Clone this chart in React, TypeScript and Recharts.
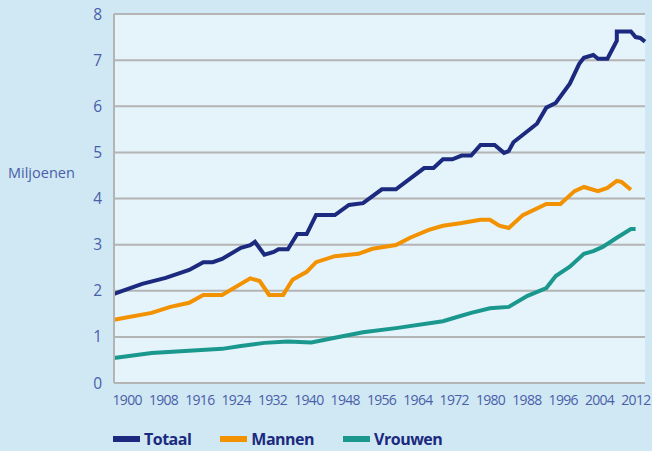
import { LineChart, Line, XAxis, YAxis, CartesianGrid } from "recharts"

const totaalJaren = [1900, 1906, 1911, 1916, 1919, 1921, 1923, 1927, 1929, 1930, 1932, 1934, 1935, 1937, 1939, 1941, 1943, 1947, 1950, 1953, 1957, 1960, 1966, 1968, 1970, 1972, 1974, 1976, 1978, 1981, 1983, 1984, 1985, 1990, 1992, 1994, 1997, 1999, 2000, 2002, 2003, 2005, 2007, 2007, 2010, 2011, 2012, 2013]
const totaalWaarden = [1.93, 2.15, 2.28, 2.45, 2.62, 2.62, 2.69, 2.93, 2.99, 3.06, 2.78, 2.84, 2.9, 2.9, 3.23, 3.23, 3.64, 3.64, 3.86, 3.9, 4.2, 4.2, 4.66, 4.66, 4.85, 4.85, 4.93, 4.93, 5.16, 5.16, 4.99, 5.03, 5.22, 5.62, 5.97, 6.07, 6.49, 6.92, 7.05, 7.11, 7.03, 7.03, 7.42, 7.62, 7.62, 7.5, 7.48, 7.4]

const mannenJaren = [1900, 1908, 1912, 1916, 1919, 1923, 1929, 1931, 1933, 1936, 1938, 1941, 1943, 1947, 1952, 1955, 1960, 1963, 1967, 1970, 1974, 1978, 1980, 1982, 1984, 1987, 1992, 1995, 1998, 2000, 2003, 2005, 2007, 2008, 2010]
const mannenWaarden = [1.37, 1.52, 1.65, 1.74, 1.91, 1.91, 2.27, 2.21, 1.91, 1.91, 2.24, 2.41, 2.62, 2.75, 2.8, 2.91, 2.99, 3.15, 3.32, 3.41, 3.47, 3.54, 3.54, 3.41, 3.36, 3.64, 3.88, 3.88, 4.16, 4.25, 4.16, 4.23, 4.38, 4.36, 4.19]

const vrouwenJaren = [1900, 1908, 1923, 1927, 1932, 1937, 1942, 1947, 1953, 1960, 1970, 1973, 1976, 1980, 1984, 1988, 1992, 1994, 1997, 2000, 2002, 2004, 2007, 2010, 2011]
const vrouwenWaarden = [0.54, 0.65, 0.74, 0.8, 0.87, 0.9, 0.88, 0.98, 1.1, 1.19, 1.34, 1.43, 1.52, 1.62, 1.65, 1.89, 2.06, 2.32, 2.52, 2.8, 2.86, 2.95, 3.15, 3.34, 3.34]

const jaarTicks = [1900, 1908, 1916, 1924, 1932, 1940, 1948, 1956, 1964, 1972, 1980, 1988, 1996, 2004, 2012]
const yTicks = [0, 1, 2, 3, 4, 5, 6, 7, 8]

const reeksen = [
  { naam: "Totaal", kleur: "#1b2a7e", jaren: totaalJaren, waarden: totaalWaarden },
  { naam: "Mannen", kleur: "#f39200", jaren: mannenJaren, waarden: mannenWaarden },
  { naam: "Vrouwen", kleur: "#1a988e", jaren: vrouwenJaren, waarden: vrouwenWaarden },
]

const tekstKleur = "#4b5ea8"
const grijs = "#b4b4b4"
const font = "'Open Sans', sans-serif"

export default function App() {
  return (
    <div style={{ position: "relative", width: 652, height: 451, background: "#cfe8f4", fontFamily: font }}>
      <style>{`body{margin:0}`}</style>
      <LineChart width={652} height={451} margin={{ top: 14, right: 7, bottom: 38, left: 64 }}>
        <CartesianGrid vertical={false} stroke={grijs} strokeWidth={2} fill="#e5f3fa" />
        <XAxis
          xAxisId="l"
          type="number"
          dataKey="jaar"
          domain={[1897.1, 2014]}
          ticks={jaarTicks}
          allowDataOverflow
          height={30}
          axisLine={{ stroke: grijs, strokeWidth: 2 }}
          tickLine={false}
          tickMargin={6}
          tick={{ fill: tekstKleur, fontSize: 14, fontFamily: font, letterSpacing: -0.7 }}
        />
        <XAxis xAxisId="d" type="number" dataKey="jaar" domain={[1900, 2013]} height={0} hide />
        <YAxis
          domain={[0, 8]}
          ticks={yTicks}
          width={50}
          axisLine={{ stroke: grijs, strokeWidth: 2 }}
          tickLine={false}
          tickMargin={6}
          tick={{ fill: tekstKleur, fontSize: 15.5, fontFamily: font }}
        />
        <Line
          xAxisId="l"
          data={jaarTicks.map((j) => ({ jaar: j }))}
          dataKey="leeg"
          stroke="none"
          dot={false}
          activeDot={false}
          isAnimationActive={false}
        />
        {reeksen.map((r) => (
          <Line
            key={r.naam}
            xAxisId="d"
            data={r.jaren.map((j, i) => ({ jaar: j, waarde: r.waarden[i] }))}
            dataKey="waarde"
            type="linear"
            stroke={r.kleur}
            strokeWidth={4}
            dot={false}
            isAnimationActive={false}
          />
        ))}
      </LineChart>
      <div style={{ position: "absolute", left: 8, top: 163, fontSize: 14.5, color: tekstKleur }}>Miljoenen</div>
      <div style={{ position: "absolute", left: 113, top: 428, display: "flex", alignItems: "center" }}>
        {reeksen.map((r) => (
          <div key={r.naam} style={{ display: "flex", alignItems: "center", marginRight: 29 }}>
            <span style={{ width: 27, height: 6, background: r.kleur, marginRight: 4 }} />
            <span style={{ fontSize: 16, fontWeight: 700, color: "#1b2a7e", letterSpacing: -0.5 }}>{r.naam}</span>
          </div>
        ))}
      </div>
    </div>
  )
}
